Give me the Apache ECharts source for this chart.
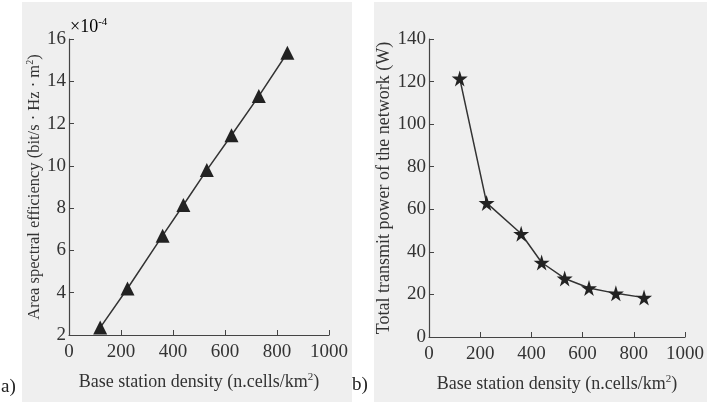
<!DOCTYPE html>
<html><head><meta charset="utf-8">
<script src="https://cdn.jsdelivr.net/npm/echarts@6/dist/echarts.min.js"></script>
<style>html,body{margin:0;padding:0;background:#fff}#c{width:707px;height:402px}</style>
</head><body><div id="c"></div>
<script>
const density = [120, 225, 360, 440, 530, 625, 730, 840];
const spectralEff = [2.35, 4.2, 6.7, 8.15, 9.8, 11.45, 13.3, 15.35];
const transmitPower = [121.5, 63, 48.5, 35, 27.5, 23, 20.5, 18.5];

const FONT = '"Liberation Serif", "DejaVu Serif", serif';
const TXT = '#333';
const AX = '#444';
const star = 'path://M50,0 L61,35 L98,35 L68,57 L79,91 L50,70 L21,91 L32,57 L2,35 L39,35 Z';

function supRich(fs) {
  return { sup: { fontFamily: FONT, fontSize: Math.round(fs * 0.6), color: TXT, padding: [0, 0, Math.round(fs * 0.5), 0] } };
}
function xAx(gi) {
  return {
    gridIndex: gi, type: 'value', min: 0, max: 1000, interval: 200,
    name: 'Base station density (n.cells/km{sup|2})',
    nameLocation: 'middle', nameGap: 37,
    nameTextStyle: { fontFamily: FONT, fontSize: 18, color: TXT, rich: supRich(18) },
    axisLine: { lineStyle: { color: AX, width: 1.2 } },
    axisTick: { inside: true, length: 5, lineStyle: { color: AX } },
    axisLabel: { fontFamily: FONT, fontSize: 19, color: TXT, margin: 8, formatter: v => String(v) },
    splitLine: { show: false }
  };
}
function yAx(gi, min, max, interval, name, gap, fs) {
  return {
    gridIndex: gi, type: 'value', min, max, interval,
    name, nameLocation: 'middle', nameGap: gap,
    nameTextStyle: { fontFamily: FONT, fontSize: fs, color: TXT, rich: supRich(fs) },
    axisLine: { show: true, lineStyle: { color: AX, width: 1.2 } },
    axisTick: { show: true, inside: true, length: 5, lineStyle: { color: AX } },
    axisLabel: { fontFamily: FONT, fontSize: 19, color: TXT, margin: 3, formatter: v => String(v) },
    splitLine: { show: false }
  };
}
const chart = echarts.init(document.getElementById('c'));
chart.setOption({
  backgroundColor: '#fff',
  animation: false,
  graphic: [
    { type: 'rect', z: -10, shape: { x: 22, y: 2, width: 330, height: 400 }, style: { fill: '#efefef' } },
    { type: 'rect', z: -10, shape: { x: 374, y: 2, width: 333, height: 400 }, style: { fill: '#efefef' } },
    { type: 'text', left: 1, top: 378, style: { text: 'a)', font: '19px ' + FONT, fill: '#222' } },
    { type: 'text', left: 352, top: 376, style: { text: 'b)', font: '19px ' + FONT, fill: '#222' } },
    { type: 'text', left: 70, top: 17, style: { rich: { b: { fontFamily: FONT, fontSize: 18, color: TXT }, s: { fontFamily: FONT, fontSize: 11, color: TXT, padding: [0, 0, 9, 0] } }, text: '{b|×10}{s|-4}' } }
  ],
  grid: [
    { left: 69, top: 39, width: 260, height: 296 },
    { left: 429, top: 39, width: 259, height: 298 }
  ],
  xAxis: [xAx(0), xAx(1)],
  yAxis: [
    yAx(0, 2, 16, 2, 'Area spectral efficiency (bit/s · Hz · m{sup|2})', 24, 16.5),
    yAx(1, 0, 140, 20, 'Total transmit power of the network (W)', 33, 18)
  ],
  series: [
    { type: 'line', xAxisIndex: 0, yAxisIndex: 0, data: density.map((x, i) => [x, spectralEff[i]]),
      symbol: 'triangle', symbolSize: 14, lineStyle: { color: '#333', width: 1.5 }, itemStyle: { color: '#222' } },
    { type: 'line', xAxisIndex: 1, yAxisIndex: 1, data: density.map((x, i) => [x, transmitPower[i]]),
      symbol: star, symbolSize: 16, lineStyle: { color: '#333', width: 1.5 }, itemStyle: { color: '#222' } }
  ]
});
</script></body></html>
